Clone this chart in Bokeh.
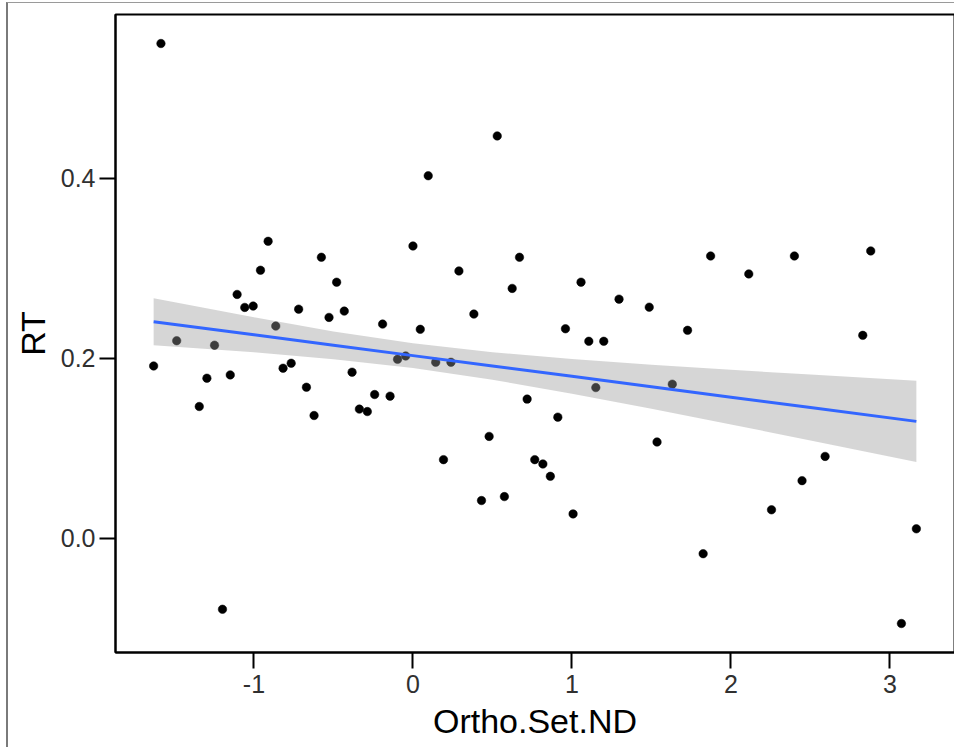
from bokeh.plotting import figure
from bokeh.models import Range1d, FixedTicker
from bokeh.embed import file_html
from bokeh.resources import INLINE

# Data (Ortho.Set.ND vs RT)
ortho_set_nd = [
    -1.631, -1.585, -1.486, -1.344, -1.296, -1.248, -1.198, -1.149, -1.106, -1.058,
    -1.005, -0.959, -0.911, -0.863, -0.817, -0.766, -0.719, -0.670, -0.622, -0.576,
    -0.528, -0.480, -0.432, -0.383, -0.337, -0.287, -0.241, -0.191, -0.144, -0.097,
    -0.046, 0.000, 0.046, 0.096, 0.143, 0.192, 0.239, 0.289, 0.383, 0.431,
    0.479, 0.530, 0.575, 0.624, 0.670, 0.718, 0.766, 0.817, 0.864, 0.911,
    0.959, 1.007, 1.057, 1.106, 1.150, 1.200, 1.296, 1.486, 1.535, 1.631,
    1.727, 1.825, 1.872, 2.112, 2.255, 2.399, 2.447, 2.592, 2.829, 2.879,
    3.072, 3.166,
]
rt = [
    0.1915, 0.5495, 0.2195, 0.1465, 0.1779, 0.2146, -0.0786, 0.1816, 0.2709, 0.2565,
    0.2580, 0.2978, 0.3299, 0.2358, 0.1890, 0.1945, 0.2546, 0.1679, 0.1365, 0.3122,
    0.2454, 0.2845, 0.2524, 0.1846, 0.1436, 0.1409, 0.1598, 0.2380, 0.1580, 0.1989,
    0.2026, 0.3247, 0.2322, 0.4027, 0.1956, 0.0875, 0.1956, 0.2970, 0.2491, 0.0421,
    0.1133, 0.4469, 0.0465, 0.2776, 0.3122, 0.1547, 0.0875, 0.0827, 0.0690, 0.1347,
    0.2328, 0.0273, 0.2845, 0.2189, 0.1675, 0.2189, 0.2657, 0.2568, 0.1071, 0.1713,
    0.2311, -0.0169, 0.3136, 0.2937, 0.0318, 0.3136, 0.0642, 0.0911, 0.2255, 0.3192,
    -0.0944, 0.0107,
]

# Fitted line and its confidence band
smooth_x = [-1.631, -1.0, -0.5, 0.0, 0.5, 1.0, 1.5, 2.0, 2.5, 3.166]
smooth_fit = [0.2406, 0.2261, 0.2145, 0.2030, 0.1915, 0.1800, 0.1684, 0.1569, 0.1454, 0.1300]
smooth_lo = [0.2144, 0.2067, 0.1991, 0.1892, 0.1762, 0.1608, 0.1439, 0.1266, 0.1089, 0.0850]
smooth_hi = [0.2668, 0.2455, 0.2299, 0.2168, 0.2068, 0.1992, 0.1929, 0.1872, 0.1819, 0.1750]

x_ticks = [-1, 0, 1, 2, 3]
y_ticks = [0.0, 0.2, 0.4]

xmin, xmax = min(ortho_set_nd), max(ortho_set_nd)
ymin, ymax = min(rt), max(rt)
xr = xmax - xmin
yr = ymax - ymin

p = figure(
    width=948, height=745,
    output_backend="svg", toolbar_location=None,
    x_range=Range1d(xmin - 0.05 * xr, xmax + 0.05 * xr),
    y_range=Range1d(ymin - 0.05 * yr, ymax + 0.05 * yr),
    min_border_left=107, min_border_right=2, min_border_top=11, min_border_bottom=96,
    x_axis_label="Ortho.Set.ND", y_axis_label="RT",
)
p.styles = {
    "margin-left": "6px", "border-left": "2px solid #7a7a7a",
    "margin-top": "2px", "border-top": "1px solid #9a9a9a",
}

p.xgrid.visible = False
p.ygrid.visible = False
p.background_fill_color = "white"
p.border_fill_color = "white"
p.outline_line_color = "black"
p.outline_line_width = 2
p.outline_line_alpha = 1.0

for ax in (p.xaxis[0], p.yaxis[0]):
    ax.axis_line_color = "black"
    ax.axis_line_width = 2
    ax.major_tick_line_color = "black"
    ax.major_tick_line_width = 2
    ax.major_tick_out = 16
    ax.major_tick_in = 0
    ax.minor_tick_line_color = None
    ax.major_label_text_font = "Liberation Sans"
    ax.major_label_text_font_size = "25px"
    ax.major_label_text_color = "#303030"
    ax.axis_label_text_font = "Liberation Sans"
    ax.axis_label_text_font_size = "34px"
    ax.axis_label_text_font_style = "normal"
    ax.axis_label_text_color = "black"

p.xaxis.ticker = FixedTicker(ticks=x_ticks)
p.yaxis.ticker = FixedTicker(ticks=y_ticks)
p.xaxis.major_label_overrides = {t: str(t) for t in x_ticks}
p.yaxis.major_label_overrides = {t: "%.1f" % t for t in y_ticks}
p.xaxis.major_label_standoff = 6
p.yaxis.major_label_standoff = 4
p.xaxis.axis_label_standoff = 6
p.yaxis.axis_label_standoff = 6

p.scatter(ortho_set_nd, rt, size=8.5, fill_color="black", line_color="black", line_width=0.5)
p.varea(x=smooth_x, y1=smooth_lo, y2=smooth_hi, fill_color="#999999", fill_alpha=0.4)
p.line(smooth_x, smooth_fit, line_color="#3366FF", line_width=3)

open("out.html", "w").write(file_html(p, INLINE))
